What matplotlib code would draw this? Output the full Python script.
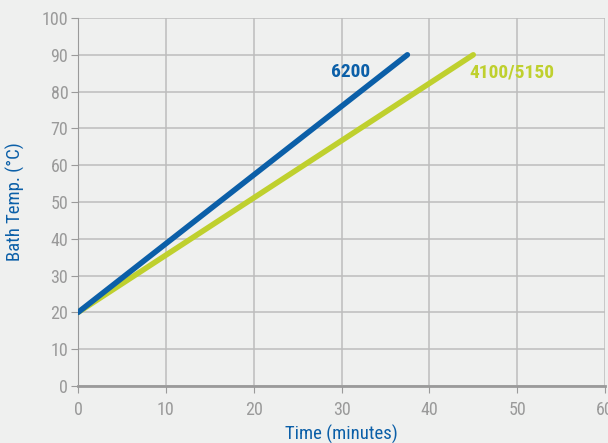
import matplotlib
matplotlib.use("Agg")
import matplotlib.pyplot as plt
from matplotlib import font_manager

names = {f.name for f in font_manager.fontManager.ttflist}
fam = [n for n in ['Roboto Condensed', 'Liberation Sans Narrow', 'Roboto', 'DejaVu Sans'] if n in names]
plt.rcParams['font.family'] = fam

series_names = ['6200', '4100/5150']
time_6200 = [0, 37.5]
temp_6200 = [20, 90]
time_4100 = [0, 45]
temp_4100 = [20, 90]
xticks = [0, 10, 20, 30, 40, 50, 60]
yticks = [0, 10, 20, 30, 40, 50, 60, 70, 80, 90, 100]

bg = '#eff0ef'
blue = '#0b5fa8'
green = '#bfd02e'
grey = '#9a9a9a'

fig = plt.figure(figsize=(6.08, 4.43), dpi=100, facecolor=bg)
ax = fig.add_axes([78/608, 1-386/443, 527/608, 368/443])
ax.set_facecolor(bg)
ax.set_xlim(0, 60)
ax.set_ylim(0, 100)
ax.set_xticks(xticks)
ax.set_yticks(yticks)
ax.grid(True, color='#bdbdbd', linewidth=1.1)
ax.set_axisbelow(True)
for s in ['top', 'right']:
    ax.spines[s].set_visible(False)
ax.spines['left'].set_color(grey)
ax.spines['bottom'].set_color(grey)
ax.spines['bottom'].set_linewidth(2)
ax.tick_params(axis='x', colors=grey, labelsize=13, length=5, direction='out', pad=6)
ax.tick_params(axis='y', colors=grey, labelsize=13, length=5, direction='out', pad=2)

ax.plot(time_4100, temp_4100, color=green, linewidth=4, solid_capstyle='round', zorder=3)
ax.plot(time_6200, temp_6200, color=blue, linewidth=4, solid_capstyle='round', zorder=4)
ax.text(31, 85.3, series_names[0], color=blue, fontsize=14, fontweight='bold', ha='center', va='center')
ax.text(49.4, 85.3, series_names[1], color=green, fontsize=14, fontweight='bold', ha='center', va='center')

ax.set_xlabel('Time (minutes)', color=blue, fontsize=13.5, labelpad=4)
ax.set_ylabel('Bath Temp. (°C)', color=blue, fontsize=13.5, labelpad=12)
fig.savefig('out.png', dpi=100, facecolor=bg)
